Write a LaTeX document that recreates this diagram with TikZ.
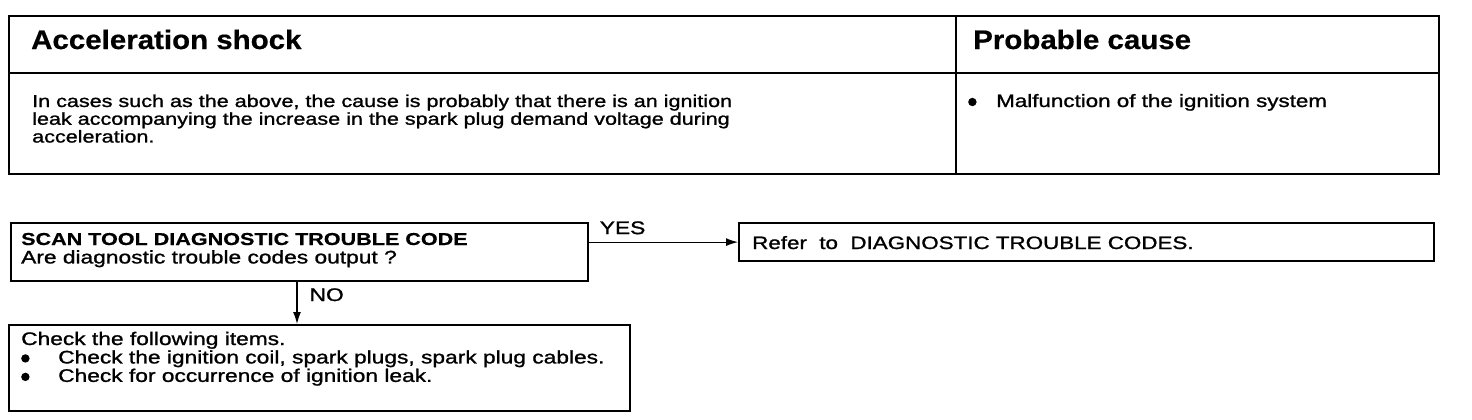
\documentclass[tikz,border=0pt]{standalone}
\usepackage{fontspec}
\setmainfont[FakeStretch=1.25,UprightFeatures={FakeBold=1.2},BoldFeatures={FakeBold=0.6}]{Liberation Sans}
\newfontfamily\headfont[FakeStretch=1.1,BoldFeatures={FakeBold=0.6}]{Liberation Sans}
\usetikzlibrary{arrows.meta}
\newcommand\itembullet{\tikz[baseline=-5pt]\fill (0,0) circle (4.2pt);}
\begin{document}
\begin{tikzpicture}[x=1pt,y=-1pt,>={Latex[length=12pt,width=8pt]},
  cell/.style={draw,line width=2.2pt,inner sep=0pt,anchor=north west},
  txt/.style={inner sep=0pt,anchor=base west},
  head/.style={txt,font=\headfont\fontsize{26.8}{30}\selectfont\bfseries},
  body/.style={txt,font=\fontsize{17.25}{17.5}\selectfont},
  flow/.style={txt,font=\fontsize{18.2}{17.5}\selectfont}]
  \useasboundingbox (0,0) rectangle (1472,420);
  % trouble table
  \path
  (8,15) node[cell,minimum width=947,minimum height=57] (HL) {}
  (955,15) node[cell,minimum width=483,minimum height=57] (HR) {}
  (8,72) node[cell,minimum width=947,minimum height=101] (BL) {}
  (955,72) node[cell,minimum width=483,minimum height=101] (BR) {};
  \path (31,49) node[head] (symptom) {Acceleration shock}
  (973,49) node[head] (cause) {Probable cause};
  \path (32,107) node[body] (reason) {%
    \begin{tabular}[t]{@{}l@{}}
      In cases such as the above, the cause is probably that there is an ignition\\
      leak accompanying the increase in the spark plug demand voltage during\\
      acceleration.
    \end{tabular}}
  (968,107) node[body,font=\fontsize{17.9}{18}\selectfont] (causeitem)
    {\makebox[28pt][l]{\itembullet}Malfunction of the ignition system};

  % flow chart
  \path
  (10,222) node[cell,minimum width=577,minimum height=58] (DTC) {}
  (738,222) node[cell,minimum width=695,minimum height=38] (REF) {}
  (8,324) node[cell,minimum width=621,minimum height=86] (CHK) {};
  \path (21,245) node[flow] (dtctext) {%
    \begin{tabular}[t]{@{}l@{}}
      \fontsize{17.25}{17.5}\selectfont\textbf{SCAN TOOL DIAGNOSTIC TROUBLE CODE}\\
      Are diagnostic trouble codes output ?
    \end{tabular}}
  (752,249) node[flow,font=\fontsize{17.9}{18}\selectfont] (reftext)
    {Refer~~to~~DIAGNOSTIC TROUBLE CODES.}
  (21,345) node[flow] (chktext) {%
    \begin{tabular}[t]{@{}l@{}}
      Check the following items.\\
      \makebox[37pt][l]{\itembullet}Check the ignition coil, spark plugs, spark plug cables.\\
      \makebox[37pt][l]{\itembullet}Check for occurrence of ignition leak.
    \end{tabular}};

  \draw[->,line width=1.2pt] (DTC.east |- REF.west) --
    node[flow,pos=0,xshift=10pt,yshift=8pt] {YES} (REF.west);
  \draw[->,line width=1.2pt] (DTC.south -| 297,0) --
    node[flow,pos=0.45,xshift=12pt] {NO} (CHK.north -| 297,0);
\end{tikzpicture}
\end{document}
